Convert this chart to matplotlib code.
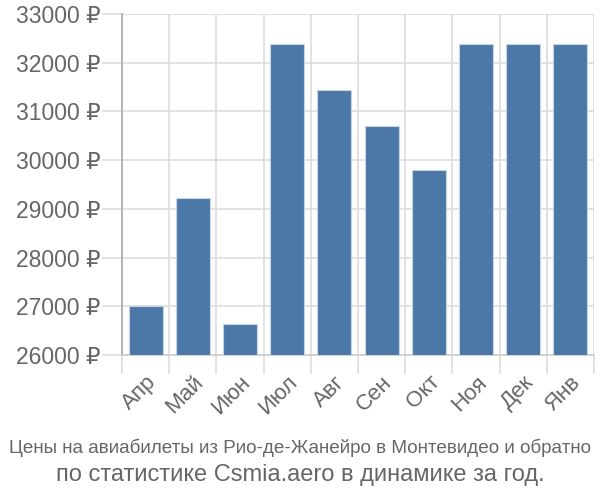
import matplotlib
matplotlib.use("Agg")
import matplotlib.pyplot as plt
import numpy as np

months = ["Апр", "Май", "Июн", "Июл", "Авг", "Сен", "Окт", "Ноя", "Дек", "Янв"]
prices = [27010, 29230, 26640, 32380, 31450, 30710, 29790, 32380, 32380, 32380]
yticks = [26000, 27000, 28000, 29000, 30000, 31000, 32000, 33000]
title1 = "Цены на авиабилеты из Рио-де-Жанейро в Монтевидео и обратно"
title2 = "по статистике Csmia.aero в динамике за год."

fam = ["Liberation Sans", "DejaVu Sans"]
plt.rcParams['font.family'] = fam
txt = "#666666"
grid = "#dddddd"

fig = plt.figure(figsize=(6, 5), dpi=100)
ax = fig.add_axes([122/600, 1-355/500, (594-122)/600, (355-14)/500])

x = np.arange(len(months))
ax.bar(x, prices, width=0.72, color="#4c78a8", edgecolor="#c8d4e4", linewidth=0.8, zorder=3)
ax.set_ylim(26000, 33000)
ax.set_xlim(-0.5, len(months) - 0.5)

ax.set_yticks(yticks)
ax.set_yticklabels([f"{v} ₽" for v in yticks], fontsize=16.5, color=txt)
ax.tick_params(axis='y', length=14.4, color=grid, width=1.2, pad=1)
ax.yaxis.grid(True, color=grid, linewidth=1.2, zorder=0)

ax.set_xticks(x)
ax.set_xticklabels(months, fontsize=16, color=txt, rotation=45, ha='right', rotation_mode='anchor')
ax.tick_params(axis='x', which='major', length=0, pad=12)
ax.set_xticks(np.arange(len(months) + 1) - 0.5, minor=True)
ax.tick_params(axis='x', which='minor', length=14, color=grid, width=1.2)
ax.xaxis.grid(True, which='minor', color=grid, linewidth=1.2, zorder=0)

for s in ['top', 'right']:
    ax.spines[s].set_visible(False)
ax.spines['left'].set_color("#aaaaaa")
ax.spines['left'].set_linewidth(1.2)
ax.spines['bottom'].set_color("#cccccc")
ax.spines['bottom'].set_linewidth(1.2)

fig.text(0.5, 1-448/500, title1, ha='center', va='center', fontsize=13.6, color=txt)
fig.text(0.5, 1-475/500, title2, ha='center', va='center', fontsize=17, color=txt)

fig.savefig("out.png", dpi=100)
